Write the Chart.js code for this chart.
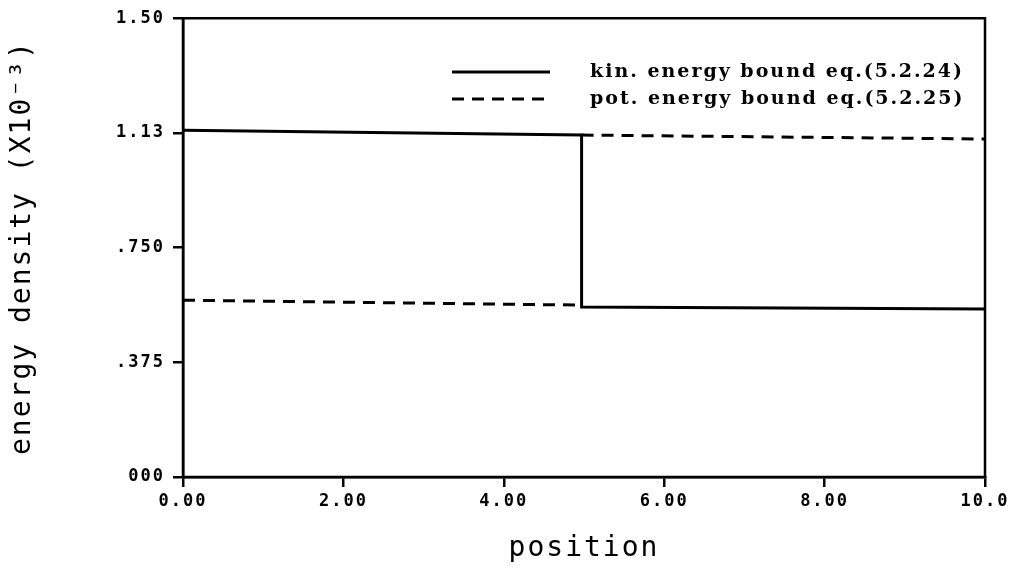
<!DOCTYPE html>
<html>
<head>
<meta charset="utf-8">
<script src="https://cdn.jsdelivr.net/npm/chart.js@4.4.1/dist/chart.umd.min.js"></script>
<style>
html,body{margin:0;padding:0;background:#fff;}
#wrap{width:1016px;height:573px;position:relative;}
</style>
</head>
<body>
<div id="wrap"><canvas id="c" width="1016" height="573"></canvas></div>
<script>
// ---- data ----
const kinLabel = 'kin. energy bound eq.(5.2.24)';
const potLabel = 'pot. energy bound eq.(5.2.25)';
const kinX = [0, 4.97, 4.97, 10];
const kinY = [1.134, 1.118, 0.556, 0.549];
const potX = [0, 4.97, 4.97, 4.97, 10];
const potY = [0.578, 0.562, null, 1.118, 1.105];
const xTickValues = [0, 2, 4, 6, 8, 10];
const xTickLabels = ['0.00', '2.00', '4.00', '6.00', '8.00', '10.0'];
const yTickValues = [0, 0.375, 0.75, 1.125, 1.5];
const yTickLabels = ['000', '.375', '.750', '1.13', '1.50'];
const xTitle = 'position';
const yTitle = 'energy density (X10\u207B\u00B3)';

const toPts = (xs, ys) => xs.map((x, i) => ({x: x, y: ys[i]}));

const monoFont = "'DejaVu Sans Mono', monospace";

const spacingPlugin = {
  id: 'spacing',
  beforeInit(chart) { chart.ctx.letterSpacing = '2px'; },
  beforeLayout(chart) { chart.ctx.letterSpacing = '2px'; },
  beforeDraw(chart) { chart.ctx.letterSpacing = '2px'; }
};

const framePlugin = {
  id: 'frame',
  afterDatasetsDraw(chart) {
    const {ctx, chartArea: a} = chart;
    ctx.save();
    ctx.strokeStyle = '#000';
    ctx.lineWidth = 2.5;
    ctx.beginPath();
    ctx.moveTo(a.left, a.bottom);
    ctx.lineTo(a.left, a.top);
    ctx.lineTo(a.right, a.top);
    ctx.lineTo(a.right, a.bottom);
    ctx.lineTo(a.left, a.bottom);
    ctx.stroke();
    ctx.restore();
  }
};

const legendPlugin = {
  id: 'innerLegend',
  afterDraw(chart) {
    const ctx = chart.ctx;
    ctx.save();
    ctx.letterSpacing = '2px';
    const x0 = 452, x1 = 550, tx = 590;
    const ys = [72, 99];
    chart.data.datasets.forEach((ds, i) => {
      const y = ys[i];
      ctx.strokeStyle = ds.borderColor;
      ctx.lineWidth = ds.borderWidth;
      ctx.setLineDash(ds.borderDash || []);
      ctx.beginPath();
      ctx.moveTo(x0, y);
      ctx.lineTo(x1, y);
      ctx.stroke();
      ctx.setLineDash([]);
      ctx.fillStyle = '#000';
      ctx.font = "bold 19px 'DejaVu Serif', serif";
      ctx.textBaseline = 'middle';
      ctx.textAlign = 'left';
      ctx.fillText(ds.label, tx, y);
    });
    ctx.restore();
  }
};

new Chart(document.getElementById('c'), {
  type: 'line',
  data: {
    datasets: [
      {
        label: kinLabel,
        data: toPts(kinX, kinY),
        borderColor: '#000',
        borderWidth: 3,
        pointRadius: 0,
        tension: 0,
        fill: false
      },
      {
        label: potLabel,
        data: toPts(potX, potY),
        borderColor: '#000',
        borderWidth: 3,
        borderDash: [12, 8],
        pointRadius: 0,
        tension: 0,
        spanGaps: false,
        fill: false
      }
    ]
  },
  plugins: [spacingPlugin, framePlugin, legendPlugin],
  options: {
    responsive: false,
    animation: false,
    layout: { padding: { top: 18, right: 31, left: 0, bottom: 0 } },
    plugins: {
      legend: { display: false },
      tooltip: { enabled: false }
    },
    scales: {
      x: {
        type: 'linear',
        min: 0,
        max: 10,
        afterBuildTicks(scale) { scale.ticks = xTickValues.map(v => ({value: v})); },
        afterFit(scale) { scale.height = 96; },
        ticks: {
          autoSkip: false,
          maxRotation: 0,
          padding: 4,
          color: '#000',
          font: { family: monoFont, size: 17, weight: 'bold' },
          callback(v) { const i = xTickValues.indexOf(v); return i >= 0 ? xTickLabels[i] : ''; }
        },
        grid: { drawOnChartArea: false, drawTicks: true, tickLength: 10, color: '#000', lineWidth: 2.5 },
        border: { display: true, color: '#000', width: 2.5 },
        title: {
          display: true,
          text: xTitle,
          color: '#000',
          font: { family: monoFont, size: 28 },
          padding: { top: 0, bottom: 7 }
        }
      },
      y: {
        type: 'linear',
        min: 0,
        max: 1.5,
        afterBuildTicks(scale) { scale.ticks = yTickValues.map(v => ({value: v})); },
        afterFit(scale) { scale.width = 183; },
        ticks: {
          autoSkip: false,
          padding: 8,
          color: '#000',
          font: { family: monoFont, size: 17, weight: 'bold' },
          callback(v) { const i = yTickValues.indexOf(v); return i >= 0 ? yTickLabels[i] : ''; }
        },
        grid: { drawOnChartArea: false, drawTicks: true, tickLength: 10, color: '#000', lineWidth: 2.5 },
        border: { display: true, color: '#000', width: 2.5 },
        title: {
          display: true,
          text: yTitle,
          color: '#000',
          font: { family: monoFont, size: 28 },
          padding: { top: 6, bottom: 0 }
        }
      }
    }
  }
});
</script>
</body>
</html>
